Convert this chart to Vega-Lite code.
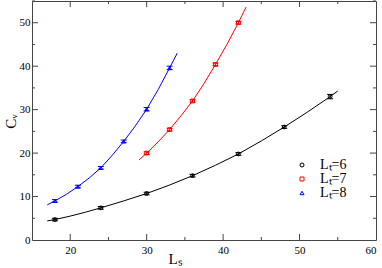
{
  "$schema": "https://vega.github.io/schema/vega-lite/v6.json",
  "width": 344,
  "height": 239,
  "autosize": {"type": "none"},
  "padding": {"left": 32, "top": 1, "right": 6, "bottom": 28},
  "config": {
    "view": {"stroke": "#444444", "strokeWidth": 1},
    "font": "Liberation Serif",
    "axis": {
      "domain": false,
      "grid": false,
      "labelFont": "Liberation Serif",
      "labelFontSize": 11,
      "labelColor": "#000000",
      "titleFont": "Liberation Serif",
      "titleFontSize": 15,
      "titleFontWeight": "normal",
      "titleColor": "#000000"
    },
    "legend": {
      "labelFont": "Liberation Serif",
      "labelFontSize": 14,
      "labelColor": "#000000"
    }
  },
  "datasets": {
    "pts": [
      {"series": "Lₜ=6", "L": 18, "C": 4.7, "lo": 4.4, "hi": 5.0},
      {"series": "Lₜ=6", "L": 24, "C": 7.4, "lo": 7.1, "hi": 7.7},
      {"series": "Lₜ=6", "L": 30, "C": 10.7, "lo": 10.4, "hi": 11.0},
      {"series": "Lₜ=6", "L": 36, "C": 14.8, "lo": 14.5, "hi": 15.1},
      {"series": "Lₜ=6", "L": 42, "C": 19.8, "lo": 19.5, "hi": 20.1},
      {"series": "Lₜ=6", "L": 48, "C": 26.0, "lo": 25.7, "hi": 26.3},
      {"series": "Lₜ=6", "L": 54, "C": 33.0, "lo": 32.5, "hi": 33.5},
      {"series": "Lₜ=7", "L": 30, "C": 20.0, "lo": 19.7, "hi": 20.3},
      {"series": "Lₜ=7", "L": 33, "C": 25.4, "lo": 25.1, "hi": 25.7},
      {"series": "Lₜ=7", "L": 36, "C": 32.0, "lo": 31.7, "hi": 32.3},
      {"series": "Lₜ=7", "L": 39, "C": 40.4, "lo": 40.1, "hi": 40.7},
      {"series": "Lₜ=7", "L": 42, "C": 50.0, "lo": 49.7, "hi": 50.3},
      {"series": "Lₜ=8", "L": 18, "C": 9.0, "lo": 8.7, "hi": 9.3},
      {"series": "Lₜ=8", "L": 21, "C": 12.3, "lo": 12.0, "hi": 12.6},
      {"series": "Lₜ=8", "L": 24, "C": 16.6, "lo": 16.3, "hi": 16.9},
      {"series": "Lₜ=8", "L": 27, "C": 22.7, "lo": 22.4, "hi": 23.0},
      {"series": "Lₜ=8", "L": 30, "C": 30.1, "lo": 29.7, "hi": 30.5},
      {"series": "Lₜ=8", "L": 33, "C": 39.6, "lo": 39.2, "hi": 40.0}
    ],
    "curves": [
      {"series": "Lₜ=6", "L": 17, "C": 4.4},
      {"series": "Lₜ=6", "L": 18, "C": 4.7},
      {"series": "Lₜ=6", "L": 20, "C": 5.5},
      {"series": "Lₜ=6", "L": 22, "C": 6.4},
      {"series": "Lₜ=6", "L": 24, "C": 7.4},
      {"series": "Lₜ=6", "L": 27, "C": 9.0},
      {"series": "Lₜ=6", "L": 30, "C": 10.7},
      {"series": "Lₜ=6", "L": 33, "C": 12.65},
      {"series": "Lₜ=6", "L": 36, "C": 14.8},
      {"series": "Lₜ=6", "L": 39, "C": 17.2},
      {"series": "Lₜ=6", "L": 42, "C": 19.8},
      {"series": "Lₜ=6", "L": 45, "C": 22.8},
      {"series": "Lₜ=6", "L": 48, "C": 26.0},
      {"series": "Lₜ=6", "L": 51, "C": 29.4},
      {"series": "Lₜ=6", "L": 54, "C": 33.0},
      {"series": "Lₜ=6", "L": 55, "C": 34.3},
      {"series": "Lₜ=7", "L": 29, "C": 18.4},
      {"series": "Lₜ=7", "L": 30, "C": 20.0},
      {"series": "Lₜ=7", "L": 31.5, "C": 22.6},
      {"series": "Lₜ=7", "L": 33, "C": 25.4},
      {"series": "Lₜ=7", "L": 34.5, "C": 28.6},
      {"series": "Lₜ=7", "L": 36, "C": 32.0},
      {"series": "Lₜ=7", "L": 37.5, "C": 36.0},
      {"series": "Lₜ=7", "L": 39, "C": 40.4},
      {"series": "Lₜ=7", "L": 40.5, "C": 45.0},
      {"series": "Lₜ=7", "L": 42, "C": 50.0},
      {"series": "Lₜ=7", "L": 43, "C": 53.6},
      {"series": "Lₜ=8", "L": 17, "C": 8.1},
      {"series": "Lₜ=8", "L": 18, "C": 9.0},
      {"series": "Lₜ=8", "L": 19.5, "C": 10.5},
      {"series": "Lₜ=8", "L": 21, "C": 12.3},
      {"series": "Lₜ=8", "L": 22.5, "C": 14.3},
      {"series": "Lₜ=8", "L": 24, "C": 16.6},
      {"series": "Lₜ=8", "L": 25.5, "C": 19.5},
      {"series": "Lₜ=8", "L": 27, "C": 22.7},
      {"series": "Lₜ=8", "L": 28.5, "C": 26.2},
      {"series": "Lₜ=8", "L": 30, "C": 30.1},
      {"series": "Lₜ=8", "L": 31.5, "C": 34.6},
      {"series": "Lₜ=8", "L": 33, "C": 39.6},
      {"series": "Lₜ=8", "L": 34, "C": 43.0}
    ],
    "xmaj": [{"v": 20}, {"v": 30}, {"v": 40}, {"v": 50}],
    "xmin": [{"v": 25}, {"v": 35}, {"v": 45}, {"v": 55}],
    "ymaj": [{"v": 10}, {"v": 20}, {"v": 30}, {"v": 40}, {"v": 50}],
    "ymin": [{"v": 5}, {"v": 15}, {"v": 25}, {"v": 35}, {"v": 45}, {"v": 55}]
  },
  "layer": [
    {
      "data": {"name": "curves"},
      "mark": {"type": "line", "strokeWidth": 1, "clip": true},
      "encoding": {
        "x": {
          "field": "L", "type": "quantitative",
          "scale": {"domain": [15, 60], "nice": false, "zero": false},
          "axis": {
            "orient": "bottom",
            "values": [20, 30, 40, 50, 60],
            "ticks": false,
            "labelPadding": 4,
            "title": "Lₛ",
            "titleX": 143,
            "titleY": 23,
            "titleBaseline": "alphabetic"
          }
        },
        "y": {
          "field": "C", "type": "quantitative",
          "scale": {"domain": [0, 55], "nice": false},
          "axis": {
            "orient": "left",
            "values": [0, 10, 20, 30, 40, 50],
            "ticks": false,
            "labelPadding": 2,
            "title": "Cᵥ",
            "titleX": -17,
            "titleY": 120,
            "titleBaseline": "alphabetic"
          }
        },
        "color": {
          "field": "series", "type": "nominal",
          "scale": {"domain": ["Lₜ=6", "Lₜ=7", "Lₜ=8"], "range": ["#000000", "#ff0000", "#0000ff"]}
        },
        "detail": {"field": "series"}
      }
    },
    {
      "data": {"name": "xmaj"},
      "layer": [
        {"mark": {"type": "rule", "color": "#444444", "strokeWidth": 1, "y2Offset": -6},
         "encoding": {"x": {"field": "v", "type": "quantitative"}, "y": {"datum": 0}, "y2": {"datum": 0}}},
        {"mark": {"type": "rule", "color": "#444444", "strokeWidth": 1, "y2Offset": 6},
         "encoding": {"x": {"field": "v", "type": "quantitative"}, "y": {"datum": 55}, "y2": {"datum": 55}}}
      ]
    },
    {
      "data": {"name": "xmin"},
      "layer": [
        {"mark": {"type": "rule", "color": "#444444", "strokeWidth": 1, "y2Offset": -3},
         "encoding": {"x": {"field": "v", "type": "quantitative"}, "y": {"datum": 0}, "y2": {"datum": 0}}},
        {"mark": {"type": "rule", "color": "#444444", "strokeWidth": 1, "y2Offset": 3},
         "encoding": {"x": {"field": "v", "type": "quantitative"}, "y": {"datum": 55}, "y2": {"datum": 55}}}
      ]
    },
    {
      "data": {"name": "ymaj"},
      "layer": [
        {"mark": {"type": "rule", "color": "#444444", "strokeWidth": 1, "x2Offset": 6},
         "encoding": {"y": {"field": "v", "type": "quantitative"}, "x": {"datum": 15}, "x2": {"datum": 15}}},
        {"mark": {"type": "rule", "color": "#444444", "strokeWidth": 1, "x2Offset": -6},
         "encoding": {"y": {"field": "v", "type": "quantitative"}, "x": {"datum": 60}, "x2": {"datum": 60}}}
      ]
    },
    {
      "data": {"name": "ymin"},
      "layer": [
        {"mark": {"type": "rule", "color": "#444444", "strokeWidth": 1, "x2Offset": 3},
         "encoding": {"y": {"field": "v", "type": "quantitative"}, "x": {"datum": 15}, "x2": {"datum": 15}}},
        {"mark": {"type": "rule", "color": "#444444", "strokeWidth": 1, "x2Offset": -3},
         "encoding": {"y": {"field": "v", "type": "quantitative"}, "x": {"datum": 60}, "x2": {"datum": 60}}}
      ]
    },
    {
      "data": {"name": "pts"},
      "mark": {"type": "rule", "strokeWidth": 1},
      "encoding": {
        "x": {"field": "L", "type": "quantitative"},
        "y": {"field": "lo", "type": "quantitative"},
        "y2": {"field": "hi"},
        "color": {"field": "series", "type": "nominal"}
      }
    },
    {
      "data": {"name": "pts"},
      "mark": {"type": "rule", "strokeWidth": 1, "xOffset": -3, "x2Offset": 3},
      "encoding": {
        "x": {"field": "L", "type": "quantitative"},
        "x2": {"field": "L"},
        "y": {"field": "lo", "type": "quantitative"},
        "color": {"field": "series", "type": "nominal"}
      }
    },
    {
      "data": {"name": "pts"},
      "mark": {"type": "rule", "strokeWidth": 1, "xOffset": -3, "x2Offset": 3},
      "encoding": {
        "x": {"field": "L", "type": "quantitative"},
        "x2": {"field": "L"},
        "y": {"field": "hi", "type": "quantitative"},
        "color": {"field": "series", "type": "nominal"}
      }
    },
    {
      "data": {"name": "pts"},
      "mark": {"type": "point", "filled": false, "strokeWidth": 1, "size": 14, "opacity": 1},
      "encoding": {
        "x": {"field": "L", "type": "quantitative"},
        "y": {"field": "C", "type": "quantitative"},
        "color": {
          "field": "series", "type": "nominal",
          "legend": {
            "orient": "none",
            "legendX": 263,
            "legendY": 157,
            "title": null,
            "rowPadding": -1,
            "labelOffset": 11,
            "symbolSize": 16,
            "symbolStrokeWidth": 1
          }
        },
        "shape": {
          "field": "series", "type": "nominal",
          "scale": {"domain": ["Lₜ=6", "Lₜ=7", "Lₜ=8"], "range": ["circle", "square", "triangle-up"]},
          "legend": {
            "orient": "none",
            "legendX": 263,
            "legendY": 157,
            "title": null,
            "rowPadding": -1,
            "labelOffset": 11,
            "symbolSize": 16,
            "symbolStrokeWidth": 1
          }
        }
      }
    }
  ]
}
